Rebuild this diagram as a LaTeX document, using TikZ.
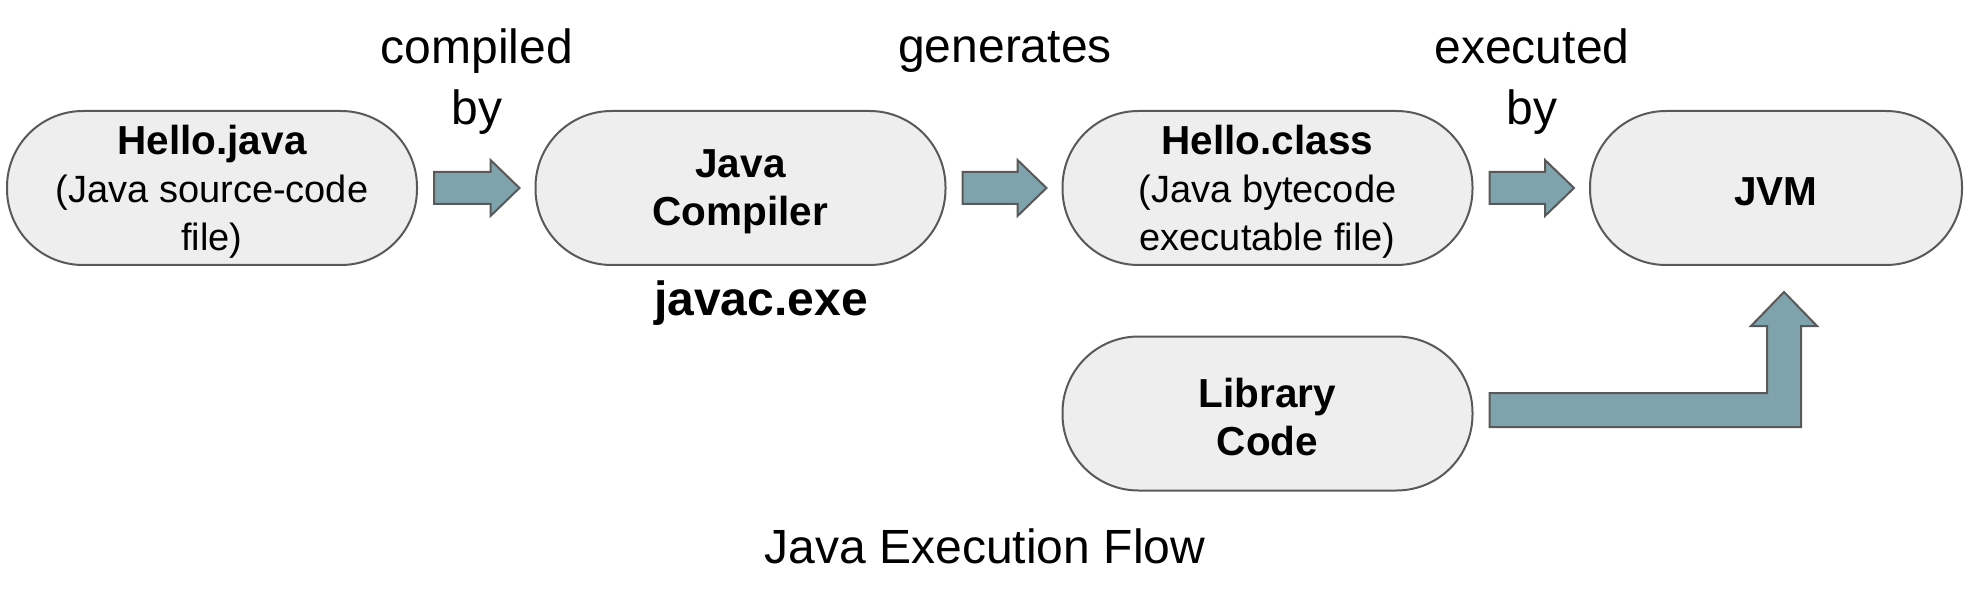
\documentclass[tikz,border=0pt]{standalone}
\usepackage{fontspec}
\setmainfont{Liberation Sans}
\usetikzlibrary{calc}
\definecolor{boxfill}{HTML}{EEEEEE}
\definecolor{boxline}{HTML}{595959}
\definecolor{arrowfill}{HTML}{7FA3AC}
\newcommand\bt[1]{{\fontsize{40.5}{48}\selectfont\bfseries #1}}
\tikzset{
  pill/.style={draw=boxline, line width=2pt, fill=boxfill, rounded corners=76pt,
    minimum height=154pt, minimum width=410pt, inner sep=0pt},
  pilltext/.style={align=center, inner sep=0pt, font=\fontsize{38}{48}\selectfont},
  blockarrow/.style={draw=boxline, line width=2pt, fill=arrowfill, line join=miter},
  lbl/.style={align=center, inner sep=0pt, font=\fontsize{48}{61}\selectfont},
}
\newcommand\harrowshape[2]{%
  \draw[blockarrow] ($(#1)+(0,-16)$) -- ($(#2)+(-29,-16)$) -- ($(#2)+(-29,-28)$) -- (#2)
    -- ($(#2)+(-29,28)$) -- ($(#2)+(-29,16)$) -- ($(#1)+(0,16)$) -- cycle;}
\begin{document}
\begin{tikzpicture}[x=1pt, y=-1pt]
\useasboundingbox (0,0) rectangle (1982,596);
\node[pill] (hj) at (212,188) {};
\node[pill] (jc) at (740.5,188) {};
\node[pill] (hc) at (1267.5,188) {};
\node[pill, minimum width=372pt] (jvm) at (1776,188) {};
\node[pill] (lib) at (1267.5,413.5) {};
\node[pilltext] (hjt) at ($(hj.center)+(0,4)$) {\bt{Hello.java}\\(Java source-code\\file)};
\node[pilltext] (jct) at ($(jc.center)+(0,4)$) {\bt{Java}\\\bt{Compiler}};
\node[pilltext] (hct) at ($(hc.center)+(0,4)$) {\bt{Hello.class}\\(Java bytecode\\executable file)};
\node[pilltext] (jvmt) at ($(jvm.center)+(0,4)$) {\bt{JVM}};
\node[pilltext] (libt) at ($(lib.center)+(0,4)$) {\bt{Library}\\\bt{Code}};

\node[lbl] (l1) at (477,82) {compiled\\by};
\node[lbl] (l2) at (1005,52) {generates};
\node[lbl] (l3) at (1532,82) {executed\\by};
\node[lbl, font=\bfseries\fontsize{48}{61}\selectfont] (javac) at (761,303) {javac.exe};
\node[lbl] (title) at (985,546) {Java Execution Flow};

\coordinate (a1s) at ($(hj.east)+(16,0)$);
\coordinate (a1e) at ($(jc.west)+(-15,0)$);
\coordinate (a2s) at ($(jc.east)+(16,0)$);
\coordinate (a2e) at ($(hc.west)+(-15,0)$);
\coordinate (a3s) at ($(hc.east)+(16,0)$);
\coordinate (a3e) at ($(jvm.west)+(-15,0)$);
\harrowshape{a1s}{a1e}
\harrowshape{a2s}{a2e}
\harrowshape{a3s}{a3e}

% bent arrow from Library Code up to JVM
\coordinate (bs) at ($(lib.east)+(16,-3.5)$);
\coordinate (btip) at ($(jvm.south)+(8,26)$);
\coordinate (bsT) at ($(bs)+(0,-17)$);
\coordinate (bsB) at ($(bs)+(0,17)$);
\coordinate (vL) at ($(btip)+(-17,34)$);
\coordinate (vR) at ($(btip)+(17,34)$);
\draw[blockarrow] (bsT) -- (vL |- bsT) -- (vL) -- ($(btip)+(-33,34)$) -- (btip)
  -- ($(btip)+(33,34)$) -- (vR) -- (vR |- bsB) -- (bsB) -- cycle;
\end{tikzpicture}
\end{document}
